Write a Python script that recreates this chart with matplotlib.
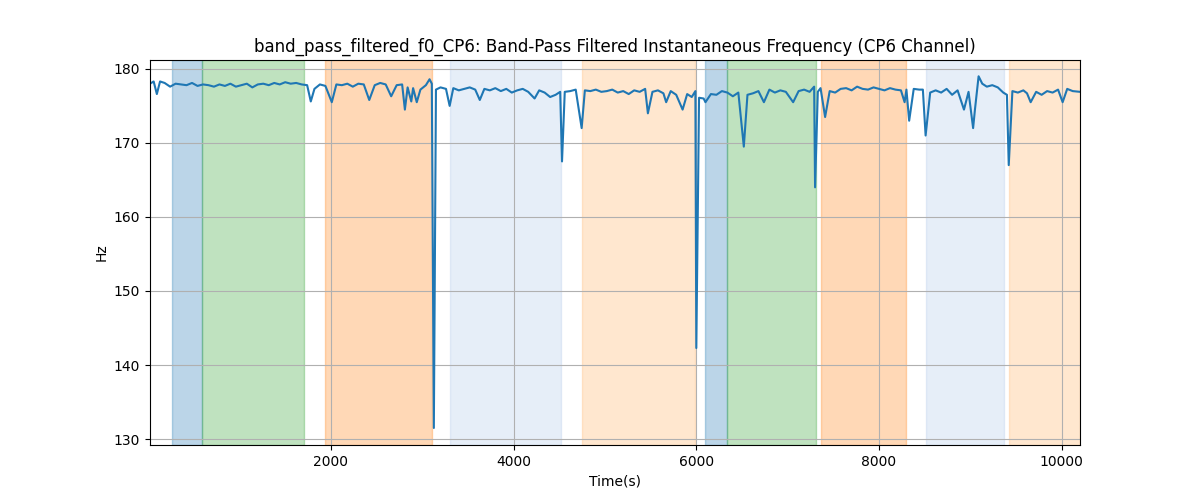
import matplotlib
matplotlib.use("Agg")
import matplotlib.pyplot as plt

time_s = [20, 60, 95, 130, 180, 240, 300, 360, 420, 480, 540, 600, 660, 720, 780, 840, 900, 960,
          1020, 1080, 1140, 1200, 1260, 1320, 1380, 1440, 1500, 1560, 1620, 1680, 1740, 1780, 1820,
          1880, 1940, 2010, 2060, 2120, 2180, 2240, 2300, 2360, 2420, 2480, 2540, 2600, 2660, 2720,
          2780, 2810, 2840, 2880, 2900, 2940, 2980, 3040, 3080, 3105, 3127, 3150, 3200, 3260, 3300,
          3340, 3400, 3460, 3520, 3580, 3630, 3680, 3740, 3800, 3860, 3920, 3980, 4040, 4100, 4160,
          4230, 4280, 4340, 4400, 4460, 4510, 4530, 4560, 4620, 4680, 4745, 4780, 4840, 4900, 4960,
          5020, 5080, 5140, 5200, 5260, 5320, 5380, 5440, 5470, 5520, 5580, 5640, 5670, 5720, 5780,
          5850, 5900, 5950, 5990, 6000, 6030, 6080, 6100, 6160, 6220, 6280, 6340, 6400, 6460, 6520,
          6560, 6620, 6680, 6740, 6800, 6860, 6920, 6980, 7060, 7120, 7180, 7240, 7290, 7300, 7330,
          7360, 7410, 7460, 7520, 7580, 7640, 7700, 7760, 7820, 7880, 7940, 8000, 8060, 8120, 8180,
          8240, 8280, 8300, 8330, 8380, 8440, 8480, 8510, 8560, 8620, 8680, 8740, 8800, 8860, 8930,
          8980, 9030, 9050, 9090, 9130, 9180, 9240, 9300, 9360, 9400, 9420, 9460, 9520, 9580, 9620,
          9660, 9720, 9780, 9840, 9900, 9960, 10010, 10060, 10120, 10200]
hz = [178.0, 178.3, 176.6, 178.3, 178.1, 177.6, 178.0, 177.9, 177.8, 178.1, 177.7, 177.9, 177.8,
      177.6, 177.9, 177.7, 178.0, 177.6, 177.8, 178.0, 177.5, 177.9, 178.0, 177.8, 178.1, 177.9,
      178.2, 178.0, 178.1, 177.9, 177.8, 175.6, 177.3, 177.9, 177.7, 175.5, 177.9, 177.8, 178.0,
      177.6, 178.0, 177.9, 175.8, 177.8, 178.1, 177.9, 176.3, 177.8, 177.9, 174.5, 177.5, 175.6,
      177.4, 175.5, 177.2, 177.8, 178.6, 178.0, 131.5, 177.2, 177.5, 177.3, 175.0, 177.4, 177.1,
      177.3, 177.5, 177.2, 175.8, 177.3, 177.1, 177.4, 177.0, 177.3, 176.8, 177.1, 177.3, 176.9,
      176.0, 177.1, 176.8, 176.2, 176.5, 176.9, 167.5, 176.9, 177.0, 177.2, 172.0, 177.1, 177.0,
      177.2, 176.9, 177.0, 177.2, 176.8, 177.0, 176.6, 177.1, 176.9, 177.3, 174.0, 176.9, 177.1,
      176.7, 175.5, 177.0, 176.5, 174.5, 176.6, 176.2, 177.0, 142.3, 176.1, 176.0, 175.5, 176.6,
      176.5, 177.0, 176.8, 176.3, 176.8, 169.5, 176.5, 176.7, 177.0, 175.5, 177.2, 176.8, 177.1,
      176.9, 175.5, 177.0, 177.2, 176.9, 177.6, 164.0, 176.9, 177.4, 173.5, 177.0, 176.8, 177.3,
      177.4, 177.1, 177.6, 177.3, 177.2, 177.5, 177.3, 177.1, 177.4, 177.2, 177.1, 175.5, 177.2,
      173.0, 177.3, 177.2, 177.2, 171.0, 176.8, 177.1, 176.8, 177.3, 176.5, 177.1, 174.5, 176.9,
      172.0, 174.5, 179.0, 178.0, 177.6, 177.8, 177.5, 176.8, 176.5, 167.0, 177.0, 176.8, 177.1,
      176.7, 175.5, 176.9, 176.5, 177.0, 176.8, 177.2, 175.5, 177.3, 177.0, 176.9]

span_starts = [260, 590, 1935, 3300, 4745, 6100, 6340, 7360, 8510, 9420]
span_ends = [590, 1705, 3105, 4515, 5990, 6340, 7305, 8290, 9365, 10200]
span_colors = ["C0", "C2", "C1", "#aec7e8", "#ffbb78", "C0", "C2", "C1", "#aec7e8", "#ffbb78"]
span_alphas = [0.3, 0.3, 0.3, 0.3, 0.35, 0.3, 0.3, 0.3, 0.3, 0.35]

fig, ax = plt.subplots(figsize=(12, 5))
for s, e, c, a in zip(span_starts, span_ends, span_colors, span_alphas):
    ax.axvspan(s, e, color=c, alpha=a)
ax.plot(time_s, hz, color="C0")
ax.set_xlim(20, 10200)
ax.set_ylim(129.2, 181.2)
ax.set_title("band_pass_filtered_f0_CP6: Band-Pass Filtered Instantaneous Frequency (CP6 Channel)")
ax.set_xlabel("Time(s)")
ax.set_ylabel("Hz")
ax.grid(True)
fig.savefig("out.png", dpi=100)
